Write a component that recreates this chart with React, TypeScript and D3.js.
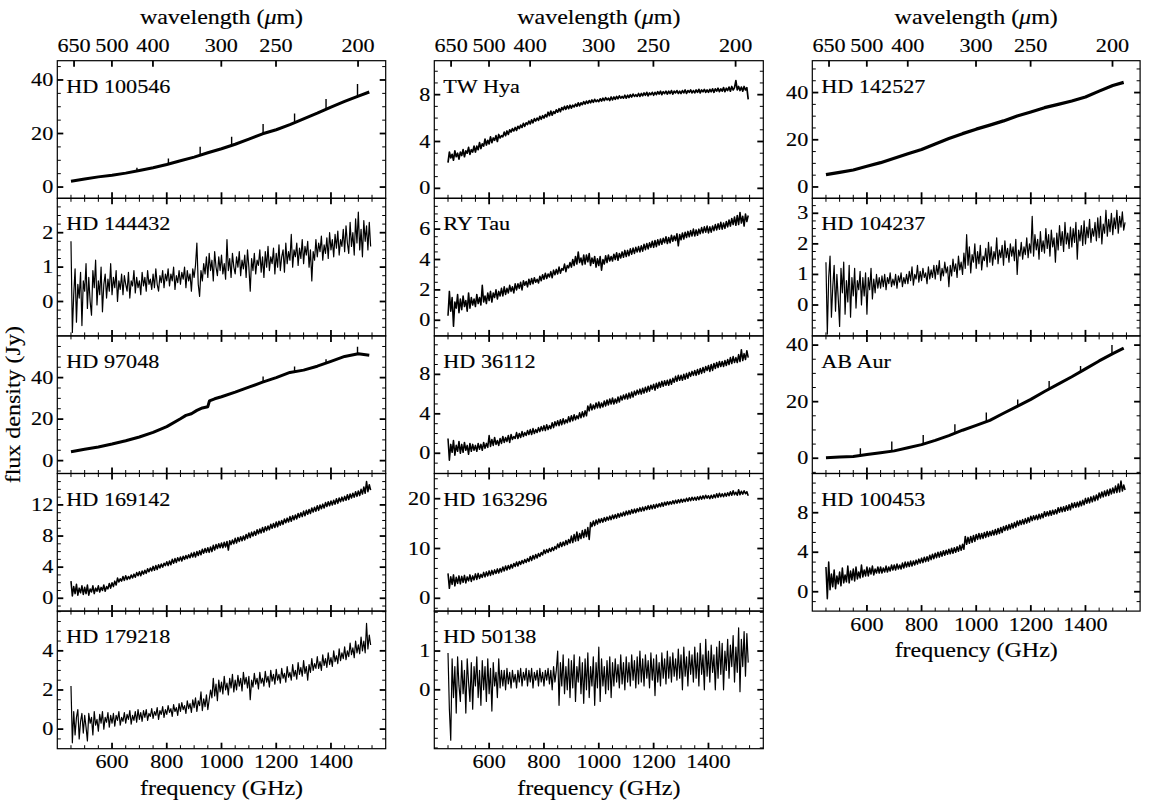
import React from "react";
import * as d3 from "d3";

// ---------- frequency grids (GHz) ----------
const FINE = [
  450, 455, 460, 465, 470, 475, 480, 485, 490, 495,
  500, 505, 510, 515, 520, 525, 530, 535, 540, 545,
  550, 555, 560, 565, 570, 575, 580, 585, 590, 595,
  600, 605, 610, 615, 620, 625, 630, 635, 640, 645,
  650, 655, 660, 665, 670, 675, 680, 685, 690, 695,
  700, 705, 710, 715, 720, 725, 730, 735, 740, 745,
  750, 755, 760, 765, 770, 775, 780, 785, 790, 795,
  800, 805, 810, 815, 820, 825, 830, 835, 840, 845,
  850, 855, 860, 865, 870, 875, 880, 885, 890, 895,
  900, 905, 910, 915, 920, 925, 930, 935, 940, 945,
  950, 955, 960, 965, 970, 975, 980, 985, 990, 995,
  1000, 1005, 1010, 1015, 1020, 1025, 1030, 1035, 1040, 1045,
  1050, 1055, 1060, 1065, 1070, 1075, 1080, 1085, 1090, 1095,
  1100, 1105, 1110, 1115, 1120, 1125, 1130, 1135, 1140, 1145,
  1150, 1155, 1160, 1165, 1170, 1175, 1180, 1185, 1190, 1195,
  1200, 1205, 1210, 1215, 1220, 1225, 1230, 1235, 1240, 1245,
  1250, 1255, 1260, 1265, 1270, 1275, 1280, 1285, 1290, 1295,
  1300, 1305, 1310, 1315, 1320, 1325, 1330, 1335, 1340, 1345,
  1350, 1355, 1360, 1365, 1370, 1375, 1380, 1385, 1390, 1395,
  1400, 1405, 1410, 1415, 1420, 1425, 1430, 1435, 1440, 1445,
  1450, 1455, 1460, 1465, 1470, 1475, 1480, 1485, 1490, 1495,
  1500, 1505, 1510, 1515, 1520, 1525, 1530, 1535, 1540, 1545,
];

const SMOOTH = [450, 500, 550, 600, 650, 700, 750, 800, 850, 900, 950, 1000, 1050, 1100, 1150, 1200, 1250, 1300, 1350, 1400, 1450, 1500, 1540];

// ---------- spectra (Jy) ----------
const hd100546Flux = [2.2, 3.0, 3.8, 4.4, 5.2, 6.2, 7.2, 8.4, 9.8, 11.2, 12.8, 14.3, 16.0, 17.9, 19.9, 21.4, 23.3, 25.5, 27.6, 29.9, 32.0, 34.0, 35.5];
const hd100546LineFreq = [691, 806, 922, 1037, 1152, 1267, 1382, 1497];
const hd100546LineBase = [6.0, 8.5, 11.9, 15.6, 19.8, 24.0, 28.8, 33.8];
const hd100546LinePeak = [7.2, 10.7, 15.1, 18.8, 23.6, 27.5, 32.9, 38.5];

const hd144432Flux = [
  1.75, -0.9, 0.2, 0.95, -0.6, 0.5, 0.1, 0.85, -0.7, 0.6,
  0.3, 1.1, -0.2, 0.7, 0.0, -0.4, 0.9, 0.4, 1.2, -0.1,
  0.6, 0.2, 1.0, -0.3, 0.5, 0.8, 0.1, 0.65, 0.3, 1.1,
  0.2, 0.7, 0.4, 0.9, 0.0, 0.6, 0.35, 0.8, 0.2, 0.75,
  0.5, 0.3, 0.85, 0.1, 0.6, 0.45, 0.9, 0.25, 0.7, 0.4,
  0.6, 0.2, 0.85, 0.45, 0.7, 0.3, 0.9, 0.5, 0.65, 0.35,
  0.8, 0.4, 0.95, 0.5, 0.3, 0.75, 0.55, 0.9, 0.4, 0.8,
  0.6, 0.95, 0.45, 0.8, 0.6, 1.0, 0.35, 0.75, 0.55, 0.9,
  0.5, 0.85, 0.65, 1.0, 0.4, 0.9, 0.6, 0.8, 0.3, 0.95,
  0.7, 1.05, 1.7, 0.5, 0.15, 0.9, 0.6, 1.1, 0.8, 1.3,
  0.7, 1.4, 0.9, 1.2, 0.6, 1.45, 1.0, 0.75, 1.3, 0.9,
  1.35, 0.8, 1.1, 0.65, 1.8, 0.9, 1.25, 0.7, 1.4, 1.0,
  0.8, 1.3, 1.0, 1.45, 0.75, 1.2, 0.95, 1.35, 0.7, 1.5,
  1.0, 0.3, 1.25, 0.9, 1.4, 0.8, 1.2, 1.05, 1.5, 0.85,
  1.3, 0.7, 1.45, 1.0, 1.6, 0.9, 1.3, 1.1, 1.55, 0.8,
  1.4, 1.0, 1.65, 0.9, 1.3, 1.5, 0.85, 1.7, 1.1, 1.45,
  1.2, 1.95, 1.0, 1.5, 1.3, 1.7, 1.05, 1.55, 1.25, 1.8,
  1.1, 1.6, 1.35, 1.75, 1.0, 1.5, 0.6, 1.45, 1.2, 1.8,
  1.3, 1.7, 1.45, 1.9, 1.2, 1.65, 1.4, 1.85, 1.25, 2.0,
  1.5, 1.8, 1.3, 1.95, 1.55, 2.05, 1.35, 1.8, 1.6, 2.1,
  1.45, 2.2, 1.7, 1.4, 2.3, 1.6, 2.0, 1.35, 2.4, 1.7,
  2.6, 1.5, 2.1, 1.3, 2.35, 1.75, 2.2, 1.5, 2.3, 1.6,
];

const hd97048Freq = [450, 500, 550, 600, 650, 700, 750, 800, 850, 870, 890, 910, 930, 950, 956, 975, 1000, 1050, 1100, 1150, 1200, 1250, 1300, 1350, 1400, 1450, 1500, 1540];
const hd97048Flux = [4.3, 5.5, 6.6, 8.0, 9.6, 11.4, 13.6, 16.4, 20.2, 21.8, 22.6, 24.2, 25.4, 26.0, 28.8, 29.8, 30.8, 33.0, 35.4, 37.8, 40.0, 42.5, 43.6, 45.5, 47.8, 50.2, 51.5, 50.8];
const hd97048LineFreq = [1152, 1267, 1382, 1497];
const hd97048LineBase = [37.9, 43.0, 46.8, 51.3];
const hd97048LinePeak = [40.5, 45.3, 48.9, 54.9];

const hd169142Flux = [
  2.2, 0.3, 1.5, 0.6, 1.8, 0.4, 1.3, 0.7, 1.6, 0.5,
  1.4, 0.6, 1.7, 0.4, 1.2, 0.8, 1.6, 0.6, 1.3, 0.9,
  1.6, 0.8, 1.4, 1.0, 1.7, 0.9, 1.5, 1.2, 1.9, 1.3,
  2.0, 1.5, 2.2, 1.7, 2.6, 2.1, 2.5, 2.2, 2.8, 2.3,
  2.9, 2.4, 2.8, 2.5, 3.0, 2.6, 3.1, 2.7, 3.3, 2.9,
  3.4, 2.9, 3.5, 3.1, 3.6, 3.2, 3.8, 3.4, 3.9, 3.5,
  4.1, 3.6, 4.2, 3.7, 4.3, 3.9, 4.4, 4.0, 4.5, 4.2,
  4.7, 4.2, 4.8, 4.3, 5.0, 4.5, 5.1, 4.6, 5.2, 4.8,
  5.3, 4.8, 5.4, 5.0, 5.5, 5.1, 5.6, 5.2, 5.8, 5.3,
  5.9, 5.3, 6.0, 5.5, 6.1, 5.6, 6.3, 5.8, 6.4, 5.9,
  6.5, 5.9, 6.6, 6.0, 6.8, 6.2, 6.9, 6.4, 7.0, 6.5,
  7.1, 6.5, 7.2, 6.6, 7.3, 6.2, 7.4, 6.9, 7.5, 7.0,
  7.7, 7.1, 7.8, 7.3, 7.9, 7.4, 8.0, 7.5, 8.2, 7.7,
  8.4, 7.8, 8.5, 8.0, 8.6, 8.1, 8.8, 8.3, 8.9, 8.4,
  9.1, 8.5, 9.2, 8.7, 9.3, 8.8, 9.5, 9.0, 9.6, 9.1,
  9.8, 9.2, 9.9, 9.4, 10.0, 9.5, 10.2, 9.7, 10.3, 9.8,
  10.5, 9.9, 10.6, 10.1, 10.7, 10.2, 10.9, 10.4, 11.0, 10.5,
  11.2, 10.6, 11.3, 10.8, 11.4, 10.9, 11.6, 11.1, 11.7, 11.2,
  11.9, 11.3, 12.0, 11.5, 12.1, 11.6, 12.3, 11.8, 12.4, 11.9,
  12.5, 12.0, 12.6, 12.1, 12.8, 12.2, 12.9, 12.4, 13.0, 12.5,
  13.1, 12.6, 13.3, 12.7, 13.4, 12.9, 13.5, 13.0, 13.7, 13.1,
  13.8, 13.2, 14.0, 13.4, 14.3, 13.5, 15.0, 13.7, 14.6, 13.9,
];

const hd179218Flux = [
  2.2, -0.7, 0.9, -0.3, 0.6, 1.0, -0.5, 0.4, 0.8, -0.2,
  0.7, 0.1, -0.6, 0.8, 0.3, 0.6, -0.3, 0.9, 0.2, 0.5,
  -0.1, 0.75, 0.3, 0.9, 0.0, 0.6, 0.35, 0.85, 0.1, 0.7,
  0.3, 0.8, 0.15, 0.7, 0.45, 0.9, 0.2, 0.6, 0.4, 0.85,
  0.3, 0.75, 0.5, 0.95, 0.25, 0.7, 0.45, 0.9, 0.35, 1.0,
  0.5, 0.85, 0.4, 0.95, 0.6, 1.0, 0.45, 0.8, 0.65, 1.05,
  0.55, 0.9, 0.7, 1.1, 0.5, 0.95, 0.75, 1.15, 0.6, 1.0,
  0.75, 1.2, 0.85, 1.05, 0.65, 1.25, 0.9, 1.1, 0.7, 1.3,
  0.9, 1.35, 1.0, 1.2, 0.8, 1.45, 1.05, 1.3, 0.85, 1.5,
  1.1, 1.6, 0.9, 1.45, 1.2, 1.9, 0.95, 1.55, 1.15, 1.75,
  1.0, 1.5, 2.0, 1.6, 2.6, 1.7, 2.3, 1.45, 2.5, 1.9,
  2.4, 1.8, 2.7, 2.0, 2.35, 1.75, 2.6, 2.1, 2.8, 1.9,
  2.5, 2.0, 2.75, 2.2, 2.6, 1.95, 2.9, 2.3, 2.65, 2.1,
  2.7, 1.5, 2.5, 2.15, 2.85, 2.3, 2.6, 2.05, 2.9, 2.35,
  2.6, 2.2, 2.95, 2.4, 2.7, 2.15, 3.0, 2.45, 2.8, 2.3,
  3.05, 2.5, 2.8, 2.35, 3.1, 2.6, 2.85, 2.4, 3.2, 2.65,
  2.9, 2.5, 3.3, 2.7, 3.0, 2.55, 3.4, 2.8, 3.15, 2.7,
  3.5, 2.85, 3.2, 2.5, 3.3, 2.9, 3.6, 3.0, 3.35, 3.1,
  3.7, 3.1, 3.45, 3.0, 3.8, 3.25, 3.6, 3.15, 3.9, 3.3,
  3.65, 3.2, 4.0, 3.45, 3.75, 3.35, 4.1, 3.5, 3.9, 3.6,
  4.2, 3.55, 4.0, 3.7, 4.4, 3.8, 4.15, 3.65, 4.5, 3.9,
  4.3, 3.85, 4.7, 4.0, 4.5, 3.9, 5.4, 4.1, 4.8, 4.3,
];

const twHyaFlux = [
  2.2, 3.1, 2.6, 2.9, 2.4, 3.2, 2.7, 3.0, 2.5, 3.1,
  2.8, 3.3, 2.7, 3.2, 3.0, 3.5, 2.9, 3.3, 3.1, 3.6,
  3.1, 3.6, 3.3, 3.9, 3.4, 3.8, 3.6, 4.2, 3.7, 4.1,
  3.8, 4.4, 3.9, 4.3, 4.1, 4.5, 4.0, 4.6, 4.3, 4.5,
  4.4, 4.8, 4.5, 4.9, 4.6, 5.0, 4.8, 5.1, 4.9, 5.2,
  4.95, 5.3, 5.1, 5.4, 5.2, 5.55, 5.3, 5.6, 5.45, 5.75,
  5.5, 5.85, 5.6, 5.95, 5.75, 6.0, 5.8, 6.15, 5.9, 6.2,
  6.0, 6.3, 6.1, 6.5, 6.2, 6.6, 6.25, 6.55, 6.4, 6.7,
  6.5, 6.8, 6.55, 6.9, 6.7, 7.0, 6.75, 7.05, 6.8, 7.1,
  6.85, 7.1, 6.95, 7.2, 7.0, 7.3, 7.05, 7.3, 7.15, 7.4,
  7.2, 7.45, 7.25, 7.5, 7.3, 7.55, 7.35, 7.6, 7.4, 7.55,
  7.4, 7.65, 7.45, 7.7, 7.5, 7.75, 7.55, 7.7, 7.5, 7.8,
  7.55, 7.8, 7.6, 7.85, 7.65, 7.9, 7.7, 7.85, 7.7, 7.95,
  7.7, 7.95, 7.75, 8.0, 7.8, 8.05, 7.85, 8.0, 7.85, 8.1,
  7.85, 8.1, 7.9, 8.15, 7.95, 8.2, 7.9, 8.15, 8.0, 8.2,
  7.95, 8.2, 8.0, 8.25, 8.05, 8.3, 8.0, 8.25, 8.1, 8.3,
  8.05, 8.3, 8.1, 8.35, 8.05, 8.3, 8.15, 8.35, 8.1, 8.3,
  8.1, 8.35, 8.15, 8.4, 8.1, 8.35, 8.2, 8.4, 8.15, 8.35,
  8.15, 8.4, 8.2, 8.45, 8.15, 8.4, 8.25, 8.45, 8.2, 8.4,
  8.2, 8.45, 8.25, 8.5, 8.2, 8.5, 8.3, 8.55, 8.25, 8.5,
  8.3, 8.6, 8.25, 8.55, 8.35, 8.65, 8.3, 8.7, 8.4, 8.6,
  9.2, 8.4, 8.7, 8.35, 8.65, 8.3, 8.7, 8.4, 8.6, 7.6,
];

const ryTauFlux = [
  0.3, 1.9, 0.6, 1.5, -0.4, 1.2, 0.8, 1.7, 0.5, 1.4,
  0.7, 1.6, 0.9, 1.3, 0.6, 1.8, 0.8, 1.5, 1.0, 1.4,
  0.9, 1.7, 1.1, 1.5, 1.0, 2.3, 1.2, 1.6, 1.1, 1.8,
  1.3, 1.9, 1.2, 1.8, 1.5, 2.0, 1.4, 1.9, 1.6, 2.1,
  1.6, 2.2, 1.7, 2.1, 1.8, 2.3, 1.9, 2.2, 1.8, 2.4,
  2.0, 2.4, 2.1, 2.5, 2.0, 2.6, 2.3, 2.55, 2.2, 2.7,
  2.35, 2.75, 2.4, 2.8, 2.5, 2.7, 2.45, 2.9, 2.6, 3.0,
  2.7, 3.1, 2.75, 3.05, 2.85, 3.2, 2.8, 3.3, 3.0, 3.35,
  3.05, 3.5, 3.1, 3.4, 3.3, 3.7, 3.2, 3.6, 3.45, 3.8,
  3.5, 4.0, 3.6, 4.2, 3.7, 4.5, 3.8, 4.1, 3.65, 4.3,
  3.7, 4.3, 3.85, 4.4, 3.6, 4.1, 3.75, 4.2, 3.5, 4.05,
  3.6, 4.2, 3.3, 4.0, 3.7, 4.25, 3.8, 4.3, 3.9, 4.2,
  3.9, 4.35, 4.0, 4.45, 3.95, 4.4, 4.1, 4.5, 4.15, 4.6,
  4.2, 4.6, 4.25, 4.7, 4.35, 4.75, 4.4, 4.8, 4.5, 4.85,
  4.5, 4.9, 4.55, 5.0, 4.65, 5.05, 4.7, 5.1, 4.8, 5.2,
  4.8, 5.25, 4.85, 5.3, 4.95, 5.35, 5.0, 5.4, 5.1, 5.5,
  5.05, 5.45, 5.1, 5.6, 5.2, 5.55, 5.25, 5.7, 4.9, 5.65,
  5.3, 5.75, 5.35, 5.8, 5.45, 5.85, 5.5, 5.9, 5.55, 6.0,
  5.55, 5.95, 5.6, 6.0, 5.7, 6.1, 5.75, 6.15, 5.8, 6.2,
  5.75, 6.15, 5.8, 6.2, 5.9, 6.3, 5.95, 6.35, 6.0, 6.45,
  6.0, 6.4, 6.05, 6.5, 6.15, 6.6, 6.2, 6.7, 6.3, 6.8,
  6.25, 6.9, 6.3, 7.1, 6.4, 6.85, 6.2, 7.0, 6.5, 6.9,
];

const hd36112Flux = [
  1.5, -0.7, 0.9, 0.1, 1.3, -0.2, 0.8, 0.2, 1.2, 0.0,
  0.9, 0.1, 1.1, 0.3, 0.8, -0.1, 1.0, 0.2, 0.9, 0.3,
  0.8, 0.2, 1.0, 0.4, 0.9, 0.3, 1.1, 0.5, 1.0, 0.6,
  1.8, 0.7, 1.4, 0.8, 1.6, 0.9, 1.3, 0.8, 1.5, 1.0,
  1.7, 1.1, 1.6, 1.2, 1.8, 1.1, 1.9, 1.4, 1.7, 1.5,
  2.1, 1.5, 2.0, 1.6, 2.2, 1.7, 2.1, 1.8, 2.3, 1.9,
  2.4, 1.9, 2.5, 2.0, 2.4, 2.1, 2.6, 2.2, 2.7, 2.3,
  2.8, 2.3, 2.9, 2.4, 2.8, 2.5, 3.1, 2.6, 3.2, 2.8,
  3.3, 2.8, 3.4, 2.9, 3.5, 3.0, 3.4, 3.1, 3.7, 3.2,
  3.8, 3.3, 3.9, 3.4, 3.8, 3.5, 4.1, 3.6, 4.2, 3.7,
  4.3, 3.8, 4.8, 4.3, 5.0, 4.4, 4.9, 4.5, 5.1, 4.6,
  5.2, 4.6, 5.1, 4.7, 5.3, 4.8, 5.4, 4.9, 5.5, 5.0,
  5.6, 5.0, 5.5, 5.1, 5.7, 5.2, 5.8, 5.4, 5.9, 5.5,
  6.0, 5.5, 6.1, 5.6, 6.2, 5.7, 6.3, 5.9, 6.4, 6.0,
  6.5, 6.0, 6.6, 6.1, 6.7, 6.2, 6.8, 6.3, 6.9, 6.5,
  7.0, 6.4, 7.1, 6.6, 7.2, 6.7, 7.3, 6.8, 7.35, 6.9,
  7.4, 6.9, 7.5, 7.0, 7.6, 7.2, 7.8, 7.3, 7.9, 7.4,
  7.9, 7.4, 8.0, 7.5, 8.1, 7.6, 8.2, 7.8, 8.3, 7.9,
  8.4, 7.9, 8.5, 8.0, 8.6, 8.1, 8.7, 8.2, 8.8, 8.4,
  8.9, 8.3, 9.0, 8.4, 9.1, 8.6, 9.2, 8.7, 9.3, 8.8,
  9.3, 8.8, 9.4, 8.9, 9.5, 9.0, 9.7, 9.1, 9.8, 9.2,
  9.7, 9.2, 10.0, 9.3, 10.5, 9.4, 10.1, 9.5, 10.4, 9.7,
];

const hd163296Flux = [
  5.0, 2.0, 4.3, 2.8, 4.7, 2.5, 4.2, 3.0, 4.5, 2.9,
  4.4, 3.2, 4.6, 3.1, 4.3, 3.5, 4.7, 3.4, 4.5, 3.7,
  4.9, 3.8, 5.0, 4.0, 4.8, 4.2, 5.2, 4.3, 5.3, 4.5,
  5.5, 4.6, 5.6, 4.8, 5.7, 5.0, 5.9, 5.1, 6.0, 5.3,
  6.3, 5.5, 6.5, 5.7, 6.6, 5.9, 6.8, 6.1, 7.0, 6.4,
  7.3, 6.5, 7.4, 6.8, 7.6, 7.0, 7.8, 7.2, 8.0, 7.4,
  8.4, 7.6, 8.6, 7.9, 8.8, 8.1, 9.0, 8.4, 9.2, 8.7,
  9.7, 9.0, 9.8, 9.2, 10.0, 9.4, 10.2, 9.6, 10.4, 9.9,
  10.9, 10.2, 11.2, 10.4, 11.3, 10.6, 11.6, 10.8, 11.8, 11.1,
  12.5, 11.2, 12.8, 11.5, 13.3, 11.6, 13.0, 12.0, 13.6, 12.2,
  13.8, 12.4, 14.2, 11.8, 15.2, 14.4, 15.5, 14.6, 15.7, 14.9,
  15.9, 15.2, 16.0, 15.3, 16.2, 15.5, 16.3, 15.7, 16.5, 15.8,
  16.7, 16.0, 16.8, 16.1, 17.0, 16.3, 17.1, 16.5, 17.3, 16.6,
  17.5, 16.8, 17.6, 16.9, 17.8, 17.1, 17.9, 17.2, 18.0, 17.4,
  18.2, 17.5, 18.3, 17.6, 18.4, 17.8, 18.6, 17.9, 18.7, 18.0,
  18.8, 18.1, 18.9, 18.3, 19.0, 18.4, 19.2, 18.5, 19.3, 18.7,
  19.4, 18.8, 19.4, 18.9, 19.6, 19.0, 19.7, 19.1, 19.8, 19.2,
  19.9, 19.3, 19.9, 19.4, 20.1, 19.5, 20.2, 19.6, 20.3, 19.7,
  20.3, 19.7, 20.4, 19.8, 20.5, 19.9, 20.6, 20.0, 20.7, 20.1,
  20.6, 20.0, 20.7, 20.1, 20.8, 20.2, 21.0, 20.3, 21.1, 20.4,
  21.0, 20.4, 21.1, 20.5, 21.2, 20.6, 21.4, 20.7, 21.6, 20.8,
  21.3, 20.7, 21.8, 20.8, 21.5, 20.9, 21.6, 21.0, 21.4, 20.6,
];

const hd50138Flux = [
  0.95, -0.5, -1.3, 0.8, -0.2, 0.6, -0.6, 0.85, 0.1, -0.3,
  0.75, -0.1, 0.5, -0.6, 0.8, 0.2, -0.3, 0.7, -0.5, 0.6,
  0.1, 0.85, -0.2, 0.5, -0.4, 0.75, 0.0, 0.6, -0.3, 0.8,
  -0.1, 0.55, -0.55, 0.7, 0.1, 0.45, -0.2, 0.8, 0.05, 0.5,
  0.1, 0.5, 0.0, 0.55, 0.15, 0.45, 0.05, 0.5, 0.2, 0.4,
  0.05, 0.5, 0.2, 0.55, 0.1, 0.45, 0.25, 0.55, 0.1, 0.5,
  0.2, 0.55, 0.05, 0.45, 0.25, 0.5, 0.1, 0.55, 0.2, 0.45,
  0.1, 0.5, 0.25, 0.55, 0.15, 0.5, 0.0, 0.6, 0.2, 0.5,
  1.0, -0.4, 0.7, 0.1, 0.9, -0.1, 0.6, 0.0, 0.8, -0.2,
  0.75, 0.05, 0.9, -0.3, 0.6, 0.2, 0.85, -0.1, 0.7, -0.35,
  0.8, 0.0, 0.95, -0.2, 0.6, 0.1, 0.85, -0.4, 0.7, 0.05,
  1.1, -0.3, 0.8, 0.1, 0.6, -0.1, 0.75, 0.0, 0.85, -0.2,
  0.7, 0.1, 0.8, 0.2, 0.65, 0.05, 0.9, 0.15, 0.7, 0.0,
  0.85, 0.2, 0.7, 0.1, 0.9, 0.25, 0.75, 0.05, 0.85, 0.15,
  1.0, 0.2, 0.8, 0.1, 0.9, 0.3, 0.75, 0.05, 0.95, 0.25,
  0.8, -0.15, 0.9, 0.2, 0.7, 0.1, 0.95, 0.3, 0.8, 0.15,
  1.0, 0.3, 0.85, 0.2, 0.95, 0.35, 0.8, 0.25, 1.05, 0.3,
  0.9, 0.0, 1.1, 0.35, 0.85, 0.1, 1.0, 0.4, 0.9, 0.2,
  1.1, 0.3, 0.95, 0.1, 1.2, 0.4, 0.9, 0.0, 1.3, 0.35,
  1.0, 0.2, 1.15, 0.45, 0.9, 0.0, 1.1, 0.3, 1.25, 0.4,
  1.2, 0.0, 1.0, 0.5, 1.3, 0.3, 1.15, 0.6, 1.4, 0.2,
  1.1, 0.45, 1.6, -0.05, 1.3, 0.6, 1.5, 0.35, 1.45, 0.7,
];

const hd142527Flux = [5.2, 6.2, 7.2, 8.8, 10.3, 12.2, 14.1, 15.9, 18.2, 20.5, 22.6, 24.5, 26.2, 28.0, 30.1, 31.8, 33.6, 35.0, 36.4, 38.1, 40.6, 43.0, 44.3];

const hd104237Flux = [
  1.4, -0.95, 0.9, 1.6, -0.4, 0.6, 1.3, -0.2, 1.0, 0.2,
  -0.7, 1.2, 0.4, 1.4, -0.3, 0.8, 0.1, 1.3, -0.4, 0.9,
  0.3, 1.2, -0.1, 0.8, 0.5, 1.1, 0.0, 0.9, 0.3, 1.05,
  -0.3, 0.9, 0.5, 1.2, 0.2, 0.85, 0.4, 1.0, 0.55, 0.9,
  0.55, 0.95, 0.6, 1.0, 0.5, 0.9, 0.7, 1.05, 0.6, 0.85,
  0.65, 1.0, 0.55, 0.95, 0.75, 1.05, 0.6, 0.9, 0.7, 1.0,
  0.7, 1.1, 0.8, 1.25, 0.65, 1.0, 0.85, 1.3, 0.75, 1.1,
  0.8, 1.2, 0.9, 1.05, 0.7, 1.25, 0.85, 1.15, 0.9, 1.3,
  0.85, 1.3, 1.0, 1.45, 0.8, 1.2, 0.95, 1.4, 1.05, 1.25,
  0.6, 1.3, 0.95, 1.5, 1.1, 1.35, 0.9, 1.6, 1.15, 1.4,
  1.0, 1.7, 1.2, 2.3, 1.3, 1.9, 1.05, 1.65, 1.4, 2.0,
  1.2, 1.75, 1.35, 1.95, 1.15, 1.6, 1.45, 1.85, 1.25, 2.05,
  1.4, 1.9, 1.3, 1.75, 1.5, 2.2, 1.35, 1.8, 1.55, 1.95,
  1.3, 2.1, 1.55, 1.85, 1.4, 2.0, 1.6, 1.9, 1.45, 2.15,
  1.0, 1.8, 1.6, 2.05, 1.5, 1.9, 1.65, 2.2, 1.55, 2.0,
  1.7, 2.9, 1.6, 2.3, 1.8, 2.15, 1.5, 2.4, 1.75, 2.1,
  1.7, 2.5, 1.85, 2.3, 1.6, 2.45, 1.9, 2.2, 1.4, 2.35,
  1.8, 2.6, 1.95, 2.4, 1.75, 2.7, 2.0, 2.35, 1.85, 2.55,
  1.9, 2.5, 2.05, 2.7, 1.5, 2.45, 2.1, 2.6, 1.95, 2.75,
  2.0, 2.55, 2.2, 2.8, 2.05, 2.5, 2.25, 2.7, 2.1, 2.85,
  2.2, 2.9, 2.0, 2.65, 2.35, 3.1, 2.25, 2.8, 2.4, 3.0,
  2.3, 2.85, 2.5, 3.1, 2.35, 2.9, 2.55, 3.05, 2.45, 2.7,
];

const abAurFlux = [0.2, 0.4, 0.6, 1.3, 1.9, 2.6, 3.7, 4.8, 6.3, 8.0, 9.9, 11.6, 13.4, 15.9, 18.3, 20.8, 23.6, 26.2, 28.8, 31.6, 34.4, 37.0, 38.9];
const abAurLineFreq = [576, 691, 806, 922, 1037, 1152, 1267, 1382, 1497];
const abAurLineBase = [0.9, 2.4, 4.9, 8.6, 12.8, 18.3, 24.2, 30.3, 36.8];
const abAurLinePeak = [3.5, 5.9, 8.2, 12.0, 16.2, 20.8, 27.3, 32.6, 40.0];

const hd100453Flux = [
  2.5, -0.7, 3.0, 0.2, 1.8, 0.5, 2.2, 0.3, 1.6, 0.8,
  2.0, 0.6, 2.4, 0.9, 1.7, 1.0, 2.6, 0.9, 2.1, 1.2,
  2.3, 1.1, 2.5, 1.3, 2.0, 1.4, 2.7, 1.5, 2.2, 1.6,
  2.5, 1.6, 2.4, 1.8, 2.6, 1.7, 2.3, 1.9, 2.5, 1.9,
  2.5, 1.9, 2.4, 2.0, 2.6, 2.0, 2.5, 2.1, 2.7, 2.2,
  2.7, 2.2, 2.8, 2.3, 2.7, 2.3, 2.9, 2.4, 3.0, 2.5,
  3.0, 2.55, 3.1, 2.6, 3.1, 2.7, 3.2, 2.8, 3.3, 2.9,
  3.4, 2.95, 3.5, 3.05, 3.55, 3.1, 3.7, 3.25, 3.8, 3.35,
  3.9, 3.45, 4.0, 3.5, 4.05, 3.6, 4.15, 3.7, 4.2, 3.8,
  4.3, 3.85, 4.4, 3.9, 4.45, 4.0, 4.55, 4.1, 4.7, 4.2,
  4.8, 4.3, 5.6, 4.8, 5.5, 4.9, 5.6, 5.0, 5.7, 5.1,
  5.8, 5.3, 5.9, 5.35, 5.9, 5.4, 6.0, 5.5, 6.1, 5.6,
  6.1, 5.7, 6.2, 5.75, 6.3, 5.8, 6.4, 5.9, 6.5, 6.0,
  6.6, 6.2, 6.7, 6.25, 6.8, 6.35, 6.9, 6.45, 7.0, 6.55,
  7.15, 6.7, 7.2, 6.8, 7.3, 6.85, 7.4, 6.95, 7.5, 7.05,
  7.65, 7.2, 7.7, 7.3, 7.75, 7.3, 7.85, 7.4, 7.9, 7.5,
  8.1, 7.65, 8.1, 7.7, 8.2, 7.75, 8.25, 7.85, 8.3, 7.9,
  8.5, 8.05, 8.55, 8.1, 8.6, 8.15, 8.7, 8.25, 8.8, 8.3,
  8.95, 8.5, 9.0, 8.55, 9.05, 8.6, 9.15, 8.7, 9.25, 8.8,
  9.45, 8.95, 9.5, 9.0, 9.6, 9.1, 9.7, 9.2, 9.8, 9.3,
  10.0, 9.5, 10.1, 9.6, 10.2, 9.7, 10.3, 9.75, 10.4, 9.9,
  10.5, 10.0, 10.7, 10.05, 10.9, 10.1, 11.2, 10.2, 10.8, 10.3,
];

// ---------- axis ticks ----------
const FREQ_MAJOR = [600, 800, 1000, 1200, 1400];
const FREQ_MINOR = [450, 500, 550, 650, 700, 750, 850, 900, 950, 1050, 1100, 1150, 1250, 1300, 1350, 1450, 1500, 1550];
const WAVE_LABELS = [650, 500, 400, 300, 250, 200];
const C_UM_GHZ = 299792.458;

// ---------- layout ----------
const COL_LEFT = [57.3, 434.3, 812.3];
const COL_W = [328.4, 329, 327.8];
const ROW_TOP0 = 60.7;
const ROW_H = 137.6;
const FONT = "'Liberation Serif', 'Times New Roman', serif";
const SX = 1.2;
const TICK_SIZE = 18.5;
const TITLE_SIZE = 20;

type Lines = { f: number[]; b: number[]; p: number[] };
type Panel = {
  name: string;
  col: number;
  row: number;
  yDom: [number, number];
  major: number[];
  minor: number;
  freq: number[];
  flux: number[];
  width: number;
  lines?: Lines;
};

const panels: Panel[] = [
  { name: "HD 100546", col: 0, row: 0, yDom: [-4.2, 47.2], major: [0, 20, 40], minor: 5, freq: SMOOTH, flux: hd100546Flux, width: 3, lines: { f: hd100546LineFreq, b: hd100546LineBase, p: hd100546LinePeak } },
  { name: "HD 144432", col: 0, row: 1, yDom: [-1.0, 3.0], major: [0, 1, 2], minor: 0.25, freq: FINE, flux: hd144432Flux, width: 1.2 },
  { name: "HD 97048", col: 0, row: 2, yDom: [-6.2, 60.1], major: [0, 20, 40], minor: 5, freq: hd97048Freq, flux: hd97048Flux, width: 3, lines: { f: hd97048LineFreq, b: hd97048LineBase, p: hd97048LinePeak } },
  { name: "HD 169142", col: 0, row: 3, yDom: [-1.65, 16.04], major: [0, 4, 8, 12], minor: 1, freq: FINE, flux: hd169142Flux, width: 1.55 },
  { name: "HD 179218", col: 0, row: 4, yDom: [-1.0, 6.03], major: [0, 2, 4], minor: 0.5, freq: FINE, flux: hd179218Flux, width: 1.2 },
  { name: "TW Hya", col: 1, row: 0, yDom: [-0.85, 10.9], major: [0, 4, 8], minor: 1, freq: FINE, flux: twHyaFlux, width: 1.7 },
  { name: "RY Tau", col: 1, row: 1, yDom: [-1.03, 8.03], major: [0, 2, 4, 6], minor: 0.5, freq: FINE, flux: ryTauFlux, width: 1.55 },
  { name: "HD 36112", col: 1, row: 2, yDom: [-2.05, 11.9], major: [0, 4, 8], minor: 1, freq: FINE, flux: hd36112Flux, width: 1.55 },
  { name: "HD 163296", col: 1, row: 3, yDom: [-2.57, 25.06], major: [0, 10, 20], minor: 2, freq: FINE, flux: hd163296Flux, width: 1.55 },
  { name: "HD 50138", col: 1, row: 4, yDom: [-1.52, 2.03], major: [0, 1], minor: 0.25, freq: FINE, flux: hd50138Flux, width: 1.2 },
  { name: "HD 142527", col: 2, row: 0, yDom: [-4.8, 53.5], major: [0, 20, 40], minor: 5, freq: SMOOTH, flux: hd142527Flux, width: 3.2 },
  { name: "HD 104237", col: 2, row: 1, yDom: [-1.01, 3.49], major: [0, 1, 2, 3], minor: 0.25, freq: FINE, flux: hd104237Flux, width: 1.2 },
  { name: "AB Aur", col: 2, row: 2, yDom: [-5.4, 43.25], major: [0, 20, 40], minor: 5, freq: SMOOTH, flux: abAurFlux, width: 3, lines: { f: abAurLineFreq, b: abAurLineBase, p: abAurLinePeak } },
  { name: "HD 100453", col: 2, row: 3, yDom: [-1.96, 11.97], major: [0, 4, 8], minor: 1, freq: FINE, flux: hd100453Flux, width: 1.55 },
];

const LAST_ROW = [4, 4, 3];

function Txt(props: { x: number; y: number; anchor?: string; size: number; rotate?: number; children: React.ReactNode }) {
  const { x, y, anchor = "start", size, rotate, children } = props;
  const tr = `translate(${x},${y})${rotate ? ` rotate(${rotate})` : ""} scale(${SX},1)`;
  return (
    <text
      transform={tr}
      textAnchor={anchor as any}
      fontSize={size}
      fontFamily={FONT}
      fill="#000"
      stroke="#000"
      strokeWidth={0.15}
    >
      {children}
    </text>
  );
}

const MAJ = 6;
const MIN = 3.5;

function PanelView({ p }: { p: Panel }) {
  const x0 = COL_LEFT[p.col];
  const w = COL_W[p.col];
  const y0 = ROW_TOP0 + p.row * ROW_H;
  const y1 = y0 + ROW_H;
  const x = d3.scaleLinear().domain([400, 1600]).range([x0, x0 + w]);
  const y = d3.scaleLinear().domain(p.yDom).range([y1, y0]);
  const pts: [number, number][] = p.freq.map((f, i) => [f, p.flux[i]]);
  const path = d3
    .line<[number, number]>()
    .x((d) => x(d[0]))
    .y((d) => y(d[1]))(pts) as string;

  const minorVals = d3
    .range(Math.ceil(p.yDom[0] / p.minor) * p.minor, p.yDom[1], p.minor)
    .map((v) => Math.round(v * 1000) / 1000)
    .filter((v) => !p.major.includes(v) && y(v) > y0 + 0.5 && y(v) < y1 - 0.5);

  const clipId = `clip-${p.col}-${p.row}`;
  const isTop = p.row === 0;
  const isBottom = p.row === LAST_ROW[p.col];

  return (
    <g>
      <defs>
        <clipPath id={clipId}>
          <rect x={x0} y={y0} width={w} height={ROW_H} />
        </clipPath>
      </defs>
      <g clipPath={`url(#${clipId})`}>
        <path d={path} fill="none" stroke="#000" strokeWidth={p.width} strokeLinejoin="round" />
        {p.lines &&
          p.lines.f.map((f, i) => (
            <line key={i} x1={x(f)} x2={x(f)} y1={y(p.lines!.b[i])} y2={y(p.lines!.p[i])} stroke="#000" strokeWidth={1.4} />
          ))}
      </g>
      <rect x={x0} y={y0} width={w} height={ROW_H} fill="none" stroke="#000" strokeWidth={1.2} />
      {p.major.map((v) => (
        <g key={`ym${v}`}>
          <line x1={x0} x2={x0 + MAJ} y1={y(v)} y2={y(v)} stroke="#000" strokeWidth={1.8} />
          <line x1={x0 + w - MAJ} x2={x0 + w} y1={y(v)} y2={y(v)} stroke="#000" strokeWidth={1.8} />
          <Txt x={x0 - 4} y={y(v) + 6} anchor="end" size={TICK_SIZE}>
            {String(v)}
          </Txt>
        </g>
      ))}
      {minorVals.map((v) => (
        <g key={`yn${v}`}>
          <line x1={x0} x2={x0 + MIN} y1={y(v)} y2={y(v)} stroke="#000" strokeWidth={1} />
          <line x1={x0 + w - MIN} x2={x0 + w} y1={y(v)} y2={y(v)} stroke="#000" strokeWidth={1} />
        </g>
      ))}
      {FREQ_MAJOR.map((f) => (
        <line key={`bM${f}`} x1={x(f)} x2={x(f)} y1={y1} y2={y1 - MAJ} stroke="#000" strokeWidth={1.8} />
      ))}
      {FREQ_MINOR.map((f) => (
        <line key={`bm${f}`} x1={x(f)} x2={x(f)} y1={y1} y2={y1 - MIN} stroke="#000" strokeWidth={1} />
      ))}
      {isTop
        ? WAVE_LABELS.map((l) => (
            <g key={`w${l}`}>
              <line x1={x(C_UM_GHZ / l)} x2={x(C_UM_GHZ / l)} y1={y0} y2={y0 + MAJ} stroke="#000" strokeWidth={1.8} />
              <Txt x={x(C_UM_GHZ / l)} y={y0 - 9} anchor="middle" size={TICK_SIZE}>
                {String(l)}
              </Txt>
            </g>
          ))
        : [
            ...FREQ_MAJOR.map((f) => (
              <line key={`tM${f}`} x1={x(f)} x2={x(f)} y1={y0} y2={y0 + MAJ} stroke="#000" strokeWidth={1.8} />
            )),
            ...FREQ_MINOR.map((f) => (
              <line key={`tm${f}`} x1={x(f)} x2={x(f)} y1={y0} y2={y0 + MIN} stroke="#000" strokeWidth={1} />
            )),
          ]}
      {isTop && (
        <Txt x={x0 + w / 2} y={y0 - 37} anchor="middle" size={TITLE_SIZE}>
          wavelength (<tspan fontStyle="italic">μ</tspan>m)
        </Txt>
      )}
      {isBottom && (
        <g>
          {FREQ_MAJOR.map((f) => (
            <Txt key={`bl${f}`} x={x(f)} y={y1 + 19.5} anchor="middle" size={TICK_SIZE}>
              {String(f)}
            </Txt>
          ))}
          <Txt x={x0 + w / 2} y={y1 + 46} anchor="middle" size={TITLE_SIZE}>
            frequency (GHz)
          </Txt>
        </g>
      )}
      <Txt x={x0 + 9} y={y0 + 32} size={TICK_SIZE}>
        {p.name}
      </Txt>
    </g>
  );
}

export default function App() {
  return (
    <svg
      width={1152}
      height={806}
      viewBox="0 0 1152 806"
      style={{ position: "absolute", left: 0, top: 0, background: "#fff" }}
    >
      <rect x={0} y={0} width={1152} height={806} fill="#fff" />
      {panels.map((p) => (
        <PanelView key={p.name} p={p} />
      ))}
      <Txt x={19.5} y={ROW_TOP0 + (ROW_H * 5) / 2} anchor="middle" size={TITLE_SIZE} rotate={-90}>
        flux density (Jy)
      </Txt>
    </svg>
  );
}
